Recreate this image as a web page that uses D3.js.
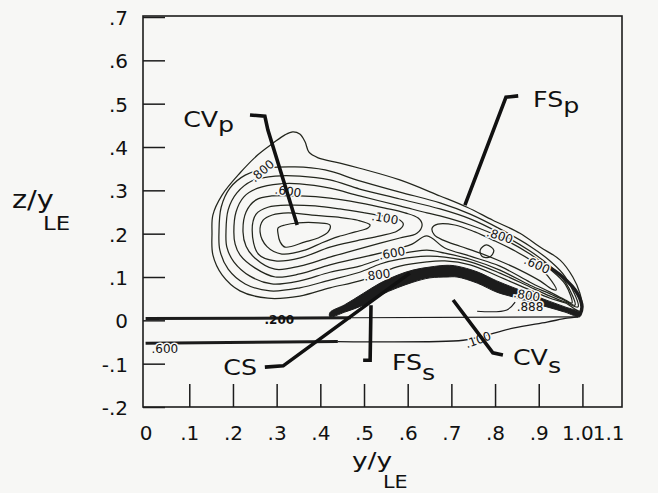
<!DOCTYPE html>
<html>
<head>
<meta charset="utf-8">
<script src="https://cdn.jsdelivr.net/npm/d3@7"></script>
<style>
  body { margin: 0; background: #f7f7f5; }
  svg { display: block; }
  text { font-family: "DejaVu Sans", "Liberation Sans", sans-serif; fill: #111; }
</style>
</head>
<body>
<script>
var width = 658
var height = 493
var bg = "#f7f7f5"
var ink = "#1c1c1c"

// axis ticks
var xTicks = [0, 0.1, 0.2, 0.3, 0.4, 0.5, 0.6, 0.7, 0.8, 0.9, 1.0, 1.1]
var xTickLabels = ["0", ".1", ".2", ".3", ".4", ".5", ".6", ".7", ".8", ".9", "1.0", "1.1"]
var yTicks = [0.7, 0.6, 0.5, 0.4, 0.3, 0.2, 0.1, 0, -0.1, -0.2]
var yTickLabels = [".7", ".6", ".5", ".4", ".3", ".2", ".1", "0", "-.1", "-.2"]

// contour lines, [y/yLE, z/yLE], innermost first
var c1 = [[0.303,0.213],[0.319,0.220],[0.349,0.225],[0.395,0.225],[0.422,0.220],[0.418,0.204],[0.395,0.190],[0.365,0.181],[0.319,0.169],[0.308,0.181],[0.303,0.201]]
var c2 = [[0.262,0.204],[0.269,0.231],[0.290,0.243],[0.326,0.248],[0.381,0.243],[0.441,0.238],[0.486,0.231],[0.514,0.220],[0.509,0.213],[0.480,0.204],[0.441,0.193],[0.404,0.179],[0.365,0.162],[0.312,0.153],[0.278,0.170]]
var c3 = [[0.244,0.208],[0.253,0.245],[0.280,0.261],[0.331,0.266],[0.388,0.264],[0.445,0.257],[0.502,0.248],[0.548,0.240],[0.578,0.234],[0.590,0.222],[0.576,0.206],[0.537,0.195],[0.480,0.183],[0.422,0.169],[0.354,0.144],[0.297,0.137],[0.258,0.153]]
var c4 = [[0.223,0.204],[0.230,0.250],[0.253,0.278],[0.289,0.287],[0.353,0.287],[0.422,0.282],[0.490,0.271],[0.548,0.259],[0.594,0.248],[0.624,0.236],[0.633,0.220],[0.621,0.201],[0.582,0.190],[0.537,0.178],[0.479,0.162],[0.422,0.146],[0.353,0.125],[0.296,0.118],[0.250,0.144],[0.230,0.171]]
var c5 = [[0.202,0.204],[0.207,0.250],[0.225,0.285],[0.257,0.305],[0.308,0.315],[0.353,0.315],[0.422,0.305],[0.490,0.287],[0.582,0.264],[0.644,0.248],[0.674,0.241],[0.743,0.220],[0.811,0.192],[0.880,0.153],[0.926,0.118],[0.961,0.083],[0.976,0.040],[0.961,0.047],[0.926,0.065],[0.880,0.088],[0.811,0.125],[0.743,0.148],[0.685,0.167],[0.644,0.195],[0.610,0.176],[0.582,0.167],[0.537,0.155],[0.490,0.144],[0.422,0.128],[0.353,0.107],[0.297,0.100],[0.250,0.121],[0.216,0.151],[0.205,0.176]]
var c6 = [[0.184,0.204],[0.189,0.255],[0.209,0.294],[0.244,0.322],[0.297,0.333],[0.353,0.333],[0.422,0.324],[0.490,0.303],[0.582,0.280],[0.674,0.257],[0.743,0.234],[0.811,0.201],[0.880,0.160],[0.926,0.125],[0.961,0.088],[0.983,0.035],[0.961,0.045],[0.926,0.061],[0.880,0.081],[0.811,0.116],[0.743,0.141],[0.685,0.155],[0.644,0.162],[0.582,0.153],[0.537,0.141],[0.490,0.125],[0.422,0.111],[0.353,0.091],[0.289,0.084],[0.239,0.102],[0.202,0.135],[0.186,0.169]]
var c7 = [[0.168,0.204],[0.173,0.261],[0.193,0.305],[0.228,0.335],[0.280,0.351],[0.342,0.354],[0.411,0.347],[0.490,0.322],[0.582,0.296],[0.674,0.271],[0.743,0.245],[0.811,0.211],[0.880,0.171],[0.926,0.137],[0.961,0.100],[0.990,0.031],[0.961,0.042],[0.926,0.056],[0.880,0.077],[0.811,0.109],[0.743,0.135],[0.685,0.146],[0.644,0.148],[0.582,0.141],[0.537,0.130],[0.490,0.111],[0.422,0.093],[0.353,0.075],[0.285,0.068],[0.228,0.084],[0.189,0.118],[0.170,0.162]]
var c8 = [[0.152,0.201],[0.154,0.243],[0.175,0.289],[0.216,0.340],[0.257,0.382],[0.292,0.409],[0.319,0.428],[0.337,0.435],[0.353,0.430],[0.365,0.412],[0.374,0.388],[0.395,0.375],[0.445,0.363],[0.490,0.351],[0.582,0.324],[0.674,0.287],[0.736,0.261],[0.795,0.231],[0.857,0.201],[0.903,0.169],[0.949,0.139],[0.978,0.100],[0.994,0.063],[0.999,0.031],[0.994,0.021],[0.961,0.040],[0.926,0.051],[0.880,0.070],[0.811,0.100],[0.743,0.128],[0.685,0.137],[0.644,0.135],[0.582,0.125],[0.537,0.109],[0.490,0.091],[0.422,0.075],[0.353,0.056],[0.280,0.051],[0.216,0.068],[0.175,0.105],[0.154,0.151]]
var island = [[0.656,0.213],[0.669,0.222],[0.708,0.220],[0.754,0.204],[0.800,0.183],[0.846,0.160],[0.891,0.132],[0.921,0.102],[0.940,0.070],[0.930,0.072],[0.903,0.091],[0.857,0.116],[0.811,0.137],[0.766,0.155],[0.720,0.171],[0.681,0.185],[0.661,0.197]]
var blip = [[0.766,0.162],[0.780,0.174],[0.797,0.162],[0.788,0.146],[0.770,0.148]]

// dense surface layer (black band), upper and lower edge
var bandX = [0.422,0.456,0.498,0.537,0.576,0.612,0.651,0.690,0.713,0.759,0.804,0.841,0.880,0.919,0.960,0.994]
var bandTop = [0.018,0.036,0.062,0.086,0.104,0.116,0.123,0.127,0.125,0.112,0.091,0.076,0.061,0.046,0.031,0.018]
var bandBottom = [0.008,0.019,0.035,0.058,0.075,0.088,0.098,0.100,0.100,0.086,0.065,0.054,0.042,0.031,0.019,0.008]

var tipArc = [[0.910,0.132],[0.955,0.100],[0.988,0.063],[0.999,0.031],[0.994,0.012]]
var underBand = [[0.759,0.021],[0.827,0.024],[0.846,0.042]]

// the two near-horizontal lines at z = 0 and z = -.05
var upperThick = [[0,0.004],[0.47,0.006]]
var upperThin = [[0.47,0.006],[0.99,0.008]]
var lowerThick = [[0,-0.053],[0.44,-0.049]]
var lowerThin = [[0.44,-0.049],[0.727,-0.046],[0.766,-0.038],[0.841,-0.018],[0.919,-0.004],[0.965,0.005],[0.99,0.008]]

// contour level labels
var levelText = [".800", ".600", ".100", ".600", ".800", ".800", ".600", ".800", ".200", ".600", ".100", ".888"]
var levelX = [0.267, 0.326, 0.548, 0.564, 0.530, 0.811, 0.896, 0.873, 0.306, 0.044, 0.761, 0.880]
var levelZ = [0.345, 0.298, 0.236, 0.155, 0.105, 0.195, 0.128, 0.058, 0.001, -0.066, -0.045, 0.031]
var levelAngle = [-40, 8, 10, -10, -8, 18, 25, 10, 0, 0, -20, 0]

// flow feature annotations
var featName = ["CV", "FS", "CS", "FS", "CV"]
var featSub = ["p", "p", "", "s", "s"]
var featX = [0.086, 0.887, 0.178, 0.564, 0.841]
var featZ = [0.446, 0.492, -0.126, -0.115, -0.103]
var featSubDrop = [5, 6, 0, 10, 8]
var leaders = [
  [[0.239,0.474],[0.273,0.471],[0.280,0.439],[0.347,0.220]],
  [[0.853,0.518],[0.825,0.515],[0.731,0.266]],
  [[0.273,-0.108],[0.315,-0.105],[0.605,0.109]],
  [[0.498,-0.092],[0.514,-0.092],[0.516,0.035]],
  [[0.704,0.047],[0.795,-0.075],[0.818,-0.080]]
]

var svg = d3.select("body").append("svg")
    .attr("width", width)
    .attr("height", height)

svg.append("rect").attr("width", width).attr("height", height).attr("fill", bg)

var x = d3.scaleLinear().domain([0, 1.1]).range([145.6, 626.1])
var y = d3.scaleLinear().domain([-0.2, 0.7]).range([407, 17])

var frame = {left: 143, top: 16, right: 622, bottom: 407}

var openLine = d3.line()
  .x(function(d){ return x(d[0]) })
  .y(function(d){ return y(d[1]) })
  .curve(d3.curveCatmullRom.alpha(0.5))
var loopLine = d3.line()
  .x(function(d){ return x(d[0]) })
  .y(function(d){ return y(d[1]) })
  .curve(d3.curveCatmullRomClosed.alpha(0.5))
var straightLine = d3.line()
  .x(function(d){ return x(d[0]) })
  .y(function(d){ return y(d[1]) })

// frame + axes
svg.append("rect")
  .attr("x", frame.left).attr("y", frame.top)
  .attr("width", frame.right - frame.left).attr("height", frame.bottom - frame.top)
  .attr("fill", "none").attr("stroke", ink).attr("stroke-width", 1.6)

var yAxis = d3.axisLeft(y).tickValues(yTicks).tickSize(-22).tickPadding(15)
  .tickFormat(function(d, i){ return yTickLabels[i] })
var gy = svg.append("g").attr("transform", "translate(" + frame.left + ",1)").call(yAxis)
gy.select(".domain").remove()
gy.attr("font-size", 20).attr("font-family", "DejaVu Sans").attr("color", ink)
gy.selectAll(".tick line").attr("stroke-width", 1.5).attr("transform", "translate(0,-1)")

var xAxis = d3.axisBottom(x).tickValues(xTicks).tickSize(-23).tickPadding(19)
  .tickFormat(function(d, i){ return xTickLabels[i] })
var gx = svg.append("g").attr("transform", "translate(0," + frame.bottom + ")").call(xAxis)
gx.select(".domain").remove()
gx.attr("font-size", 20).attr("font-family", "DejaVu Sans").attr("color", ink)
gx.selectAll(".tick line").attr("stroke-width", 1.5)
gx.selectAll(".tick line").filter(function(d){ return d === 0 || d === 1.1 }).remove()
gx.selectAll(".tick text").filter(function(d){ return d === 1.0 }).attr("x", -5)
gx.selectAll(".tick text").filter(function(d){ return d === 1.1 })
  .attr("text-anchor", "end").attr("x", frame.right + 2 - x(1.1))

// contours
var plot = svg.append("g")

plot.selectAll(".contour")
  .data([c1, c2, c3, c4, c5, c6, c7, c8, island, blip])
  .enter().append("path")
  .attr("class", "contour")
  .attr("d", loopLine)
  .attr("fill", "none")
  .attr("stroke", "#23261d")
  .attr("stroke-width", 1.25)

var band = bandX.map(function(v, i){ return [v, bandTop[i]] })
  .concat(bandX.map(function(v, i){ return [v, bandBottom[i]] }).reverse())
plot.append("path").attr("d", loopLine(band)).attr("fill", ink).attr("stroke", ink).attr("stroke-width", 1)

plot.append("path").attr("d", openLine(tipArc)).attr("fill", "none").attr("stroke", ink).attr("stroke-width", 3.5)
plot.append("path").attr("d", openLine(underBand)).attr("fill", "none").attr("stroke", ink).attr("stroke-width", 1.2)

plot.append("path").attr("d", straightLine(upperThick)).attr("stroke", ink).attr("stroke-width", 3)
plot.append("path").attr("d", straightLine(upperThin)).attr("stroke", ink).attr("stroke-width", 1.2)
plot.append("path").attr("d", straightLine(lowerThick)).attr("stroke", ink).attr("stroke-width", 3)
plot.append("path").attr("d", openLine(lowerThin)).attr("fill", "none").attr("stroke", ink).attr("stroke-width", 1.3)

// level labels, with a halo so they break the line like the original
plot.selectAll(".level")
  .data(levelText)
  .enter().append("text")
  .attr("class", "level")
  .attr("transform", function(d, i){
    return "translate(" + x(levelX[i]) + "," + y(levelZ[i]) + ") rotate(" + levelAngle[i] + ")"
  })
  .attr("text-anchor", "middle")
  .attr("dy", "0.35em")
  .style("font-size", "12px")
  .style("font-weight", function(d, i){ return i === 8 ? "bold" : "normal" })
  .attr("stroke", function(d, i){ return i === 8 ? "none" : bg })
  .attr("stroke-width", 3)
  .attr("paint-order", "stroke")
  .text(function(d){ return d })

// leaders
svg.selectAll(".leader")
  .data(leaders)
  .enter().append("path")
  .attr("class", "leader")
  .attr("d", straightLine)
  .attr("fill", "none")
  .attr("stroke", "#111")
  .attr("stroke-width", 3.6)
  .attr("stroke-linejoin", "miter")

var feat = svg.selectAll(".feat")
  .data(featName)
  .enter().append("text")
  .attr("class", "feat")
  .attr("transform", function(d, i){
    return "translate(" + x(featX[i]) + "," + y(featZ[i]) + ") scale(1.15,1)"
  })
  .style("font-size", "22px")
feat.append("tspan").text(function(d){ return d })
feat.append("tspan")
  .attr("dy", function(d, i){ return featSubDrop[i] })
  .text(function(d, i){ return featSub[i] })

// axis titles
var yt = svg.append("g").style("font-size", "24px")
yt.append("text").attr("transform", "translate(12,208) scale(1.2,1)").text("z/y")
yt.append("text").attr("transform", "translate(43,230) scale(1.2,1)").style("font-size", "19px").text("LE")

var xt = svg.append("g").style("font-size", "22px")
xt.append("text").attr("transform", "translate(352,468) scale(1.2,1)").text("y/y")
xt.append("text").attr("transform", "translate(383,488) scale(1.15,1)").style("font-size", "18px").text("LE")
</script>
</body>
</html>
